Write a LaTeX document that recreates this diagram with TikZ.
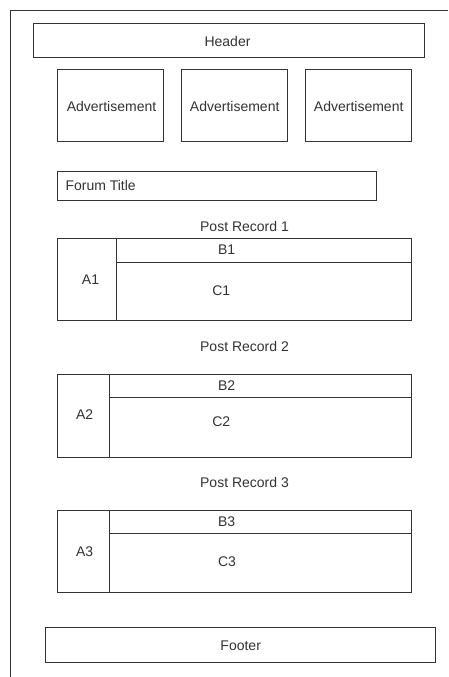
\documentclass[tikz,border=0pt]{standalone}
\usepackage{fontspec}
\setmainfont{Liberation Sans}
\definecolor{ink}{HTML}{333333}
\begin{document}
\begin{tikzpicture}[x=1pt,y=-1pt,
  box/.style={draw=ink,line width=1pt,inner sep=0pt,outer sep=0pt,rectangle},
  lbl/.style={text=ink,inner sep=0pt,font=\fontsize{14}{16}\selectfont}]
\useasboundingbox (0,0) rectangle (448,677);
\fill[white] (0,0) rectangle (448,677);
% outer frame (cropped)
\coordinate (ftr) at (448,11);
\coordinate (ftl) at (10,11);
\coordinate (fbl) at (10,677);
\draw[ink,line width=1pt] (ftr) -- (ftl) -- (fbl);
% header
\node[box,minimum width=391,minimum height=34] (header) at (228.5,41) {};
\node[lbl] (headert) at (227.5,41.5) {Header};
% ads
\node[box,minimum width=106,minimum height=71] (ad1) at (110,105.5) {};
\node[box,minimum width=106,minimum height=71] (ad2) at (234,105.5) {};
\node[box,minimum width=106,minimum height=71] (ad3) at (358,105.5) {};
\node[lbl] (ad1t) at (111.5,106.5) {Advertisement};
\node[lbl] (ad2t) at (234.7,106.5) {Advertisement};
\node[lbl] (ad3t) at (358.7,106.5) {Advertisement};
% forum title
\node[box,minimum width=319,minimum height=29] (forum) at (216.5,185.5) {};
\node[lbl,anchor=west] (forumt) at (65.3,185.5) {Forum Title};
% post record 1
\node[lbl] (pr1) at (244.5,226) {Post Record 1};
\node[box,minimum width=59,minimum height=82] (a1) at (86.5,279) {};
\node[box,minimum width=295,minimum height=24] (b1) at (263.5,250) {};
\node[box,minimum width=295,minimum height=58] (c1) at (263.5,291) {};
\node[lbl] (a1t) at (90.5,279.3) {A1};
\node[lbl] (b1t) at (226.7,249.3) {B1};
\node[lbl] (c1t) at (221.3,290.7) {C1};
% post record 2
\node[lbl] (pr2) at (244.5,346) {Post Record 2};
\node[box,minimum width=52,minimum height=83] (a2) at (83,415.5) {};
\node[box,minimum width=302,minimum height=23.7] (b2) at (260,385.85) {};
\node[box,minimum width=302,minimum height=59.3] (c2) at (260,427.35) {};
\node[lbl] (a2t) at (84.7,415) {A2};
\node[lbl] (b2t) at (226.7,385.7) {B2};
\node[lbl] (c2t) at (221.3,422) {C2};
% post record 3
\node[lbl] (pr3) at (244.5,482) {Post Record 3};
\node[box,minimum width=52,minimum height=82] (a3) at (83,551) {};
\node[box,minimum width=302,minimum height=23.3] (b3) at (260,521.65) {};
\node[box,minimum width=302,minimum height=58.7] (c3) at (260,562.65) {};
\node[lbl] (a3t) at (84.7,551.7) {A3};
\node[lbl] (b3t) at (226.7,521.7) {B3};
\node[lbl] (c3t) at (227,561.7) {C3};
% footer
\node[box,minimum width=390,minimum height=35] (footer) at (240,645.2) {};
\node[lbl] (footert) at (240.7,646) {Footer};
\end{tikzpicture}
\end{document}
